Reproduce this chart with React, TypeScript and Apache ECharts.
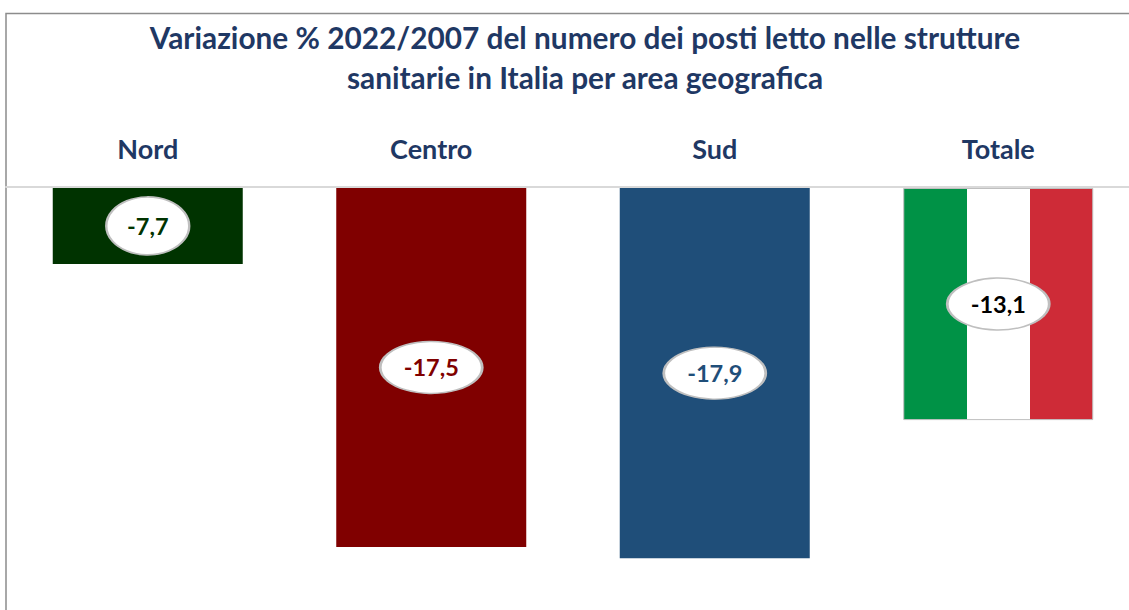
import React, { useEffect, useRef } from "react";
import * as echarts from "echarts";

const titleLines = [
  "Variazione % 2022/2007 del numero dei posti letto nelle strutture",
  "sanitarie in Italia per area geografica",
];
const categories = ["Nord", "Centro", "Sud", "Totale"];
// Printed labels, as shown in the picture
const printedLabels = ["-7,7", "-17,5", "-17,9", "-13,1"];
// Drawn bar lengths (they differ from the printed labels)
const barValues = [-3.67, -17.35, -17.9, -11.22];
const barColors = ["#003300", "#800000", "#1F4E79", "flag"];
const labelColors = ["#003300", "#800000", "#1F4E79", "#000000"];
const ellipseSizes = [[83, 58], [102, 52], [102, 52], [102, 52]];

const FONT = "Lato";
const NAVY = "#1F3864";

export default function App() {
  const ref = useRef<HTMLDivElement>(null);
  useEffect(() => {
    document.body.style.margin = "0";
    const chart = echarts.init(ref.current!, null, { renderer: "svg" });
    const flag = new echarts.graphic.LinearGradient(0, 0, 1, 0, [
      { offset: 0, color: "#009246" },
      { offset: 1 / 3, color: "#009246" },
      { offset: 1 / 3, color: "#FFFFFF" },
      { offset: 2 / 3, color: "#FFFFFF" },
      { offset: 2 / 3, color: "#CE2B37" },
      { offset: 1, color: "#CE2B37" },
    ]);
    chart.setOption({
      animation: false,
      backgroundColor: "#FFFFFF",
      title: {
        text: titleLines.join("\n"),
        left: 580,
        top: 12,
        textAlign: "center",
        textStyle: { fontFamily: FONT, fontWeight: "bold", fontSize: 29.8, lineHeight: 40, color: NAVY },
      },
      grid: { left: 6, width: 1134, top: 188, height: 422, outerBoundsMode: "none" },
      xAxis: {
        type: "category",
        data: categories,
        position: "top",
        offset: 1,
        axisLine: { show: true, onZero: false, lineStyle: { color: "#D9D9D9", width: 2 } },
        axisTick: { show: false },
        axisLabel: { fontFamily: FONT, fontWeight: "bold", fontSize: 27, color: NAVY, margin: 25 },
      },
      yAxis: { type: "value", min: -20.4, max: 0, show: false, splitLine: { show: false } },
      series: [
        {
          type: "bar",
          barWidth: 190,
          data: barValues.map((v, i) => ({
            value: v,
            itemStyle:
              barColors[i] === "flag"
                ? { color: flag, borderColor: "#BFBFBF", borderWidth: 1 }
                : { color: barColors[i] },
          })),
        },
        {
          type: "scatter",
          z: 5,
          symbol: "circle",
          data: barValues.map((v, i) => ({
            value: v / 2,
            symbolSize: ellipseSizes[i],
            label: {
              show: true,
              position: "inside",
              formatter: printedLabels[i],
              fontFamily: FONT,
              fontWeight: "bold",
              fontSize: 23.5,
              color: labelColors[i],
            },
          })),
          itemStyle: { color: "#FFFFFF", borderColor: "#BFBFBF", borderWidth: 2, opacity: 1 },
        },
      ],
      graphic: [
        {
          type: "polyline",
          silent: true,
          shape: { points: [[6, 610], [6, 13.5], [1129, 13.5]] },
          style: { stroke: "#8C8C8C", lineWidth: 1.5, fill: "none" },
        },
      ],
    });
    return () => chart.dispose();
  }, []);
  return <div ref={ref} style={{ width: 1129, height: 610 }} />;
}
